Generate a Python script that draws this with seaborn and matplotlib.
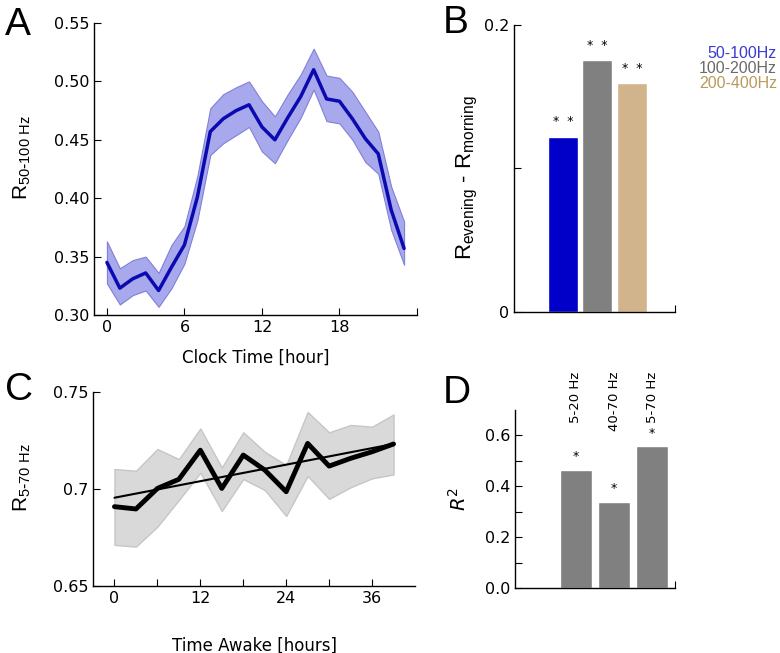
import numpy as np
import matplotlib
matplotlib.use('Agg')
import matplotlib.pyplot as plt
import seaborn as sns

# Panel A: clock time vs R (50-100 Hz)
hours = list(range(24))
r_mean = [0.345, 0.323, 0.331, 0.336, 0.321, 0.341, 0.360, 0.401, 0.457, 0.468, 0.475, 0.480,
          0.461, 0.450, 0.469, 0.487, 0.510, 0.485, 0.483, 0.468, 0.451, 0.438, 0.390, 0.357]
r_upper = [0.363, 0.340, 0.347, 0.350, 0.336, 0.360, 0.376, 0.419, 0.477, 0.489, 0.495, 0.500,
           0.483, 0.470, 0.489, 0.506, 0.528, 0.505, 0.503, 0.491, 0.474, 0.457, 0.410, 0.380]
r_lower = [0.327, 0.309, 0.317, 0.321, 0.307, 0.323, 0.344, 0.381, 0.437, 0.447, 0.454, 0.461,
           0.440, 0.430, 0.450, 0.469, 0.493, 0.466, 0.464, 0.450, 0.431, 0.421, 0.373, 0.343]

# Panel B: evening - morning difference
bands_b = ['50-100Hz', '100-200Hz', '200-400Hz']
diff_b = [0.122, 0.1755, 0.1595]
colors_b = ['#0000c8', '#808080', '#d2b48c']
text_colors_b = ['#3a3ad0', '#6a6a6a', '#b89a5c']

# Panel C: time awake vs R (5-70 Hz)
awake = [0, 3, 6, 9, 12, 15, 18, 21, 24, 27, 30, 33, 36, 39]
c_mean = [0.6909, 0.6897, 0.7003, 0.7050, 0.7200, 0.7003, 0.7175, 0.7098, 0.6986, 0.7235,
          0.7118, 0.7158, 0.7192, 0.7232]
c_upper = [0.7103, 0.7094, 0.7206, 0.7154, 0.7312, 0.7111, 0.7292, 0.7192, 0.7123, 0.7397,
           0.7292, 0.7330, 0.7321, 0.7384]
c_lower = [0.6712, 0.6703, 0.6806, 0.6943, 0.7084, 0.6887, 0.7051, 0.6995, 0.6861, 0.7067,
           0.6949, 0.7009, 0.7055, 0.7075]
trend_x = [0, 39]
trend_y = [0.6955, 0.7232]

# Panel D: R^2 per band
bands_d = ['5-20 Hz', '40-70 Hz', '5-70 Hz']
r2_d = [0.4655, 0.340, 0.557]

sns.set_style('ticks')
plt.rcParams['font.family'] = ['DejaVu Sans']
plt.rcParams['mathtext.default'] = 'regular'
plt.rcParams['text.color'] = 'black'
plt.rcParams['axes.labelcolor'] = 'black'
plt.rcParams['axes.edgecolor'] = 'black'
plt.rcParams['xtick.color'] = 'black'
plt.rcParams['ytick.color'] = 'black'
plt.rcParams['xtick.direction'] = 'in'
plt.rcParams['ytick.direction'] = 'in'
plt.rcParams['xtick.major.size'] = 5
plt.rcParams['ytick.major.size'] = 5
plt.rcParams['xtick.minor.size'] = 5
plt.rcParams['ytick.minor.size'] = 5
plt.rcParams['axes.linewidth'] = 1.0

fig = plt.figure(figsize=(7.8, 6.53), dpi=100)
W, H = 780, 653


def add_axes(left, right, top, bottom):
    return fig.add_axes([left / W, 1 - bottom / H, (right - left) / W, (bottom - top) / H])


ax_a = add_axes(94, 417, 23, 315)
ax_b = add_axes(514, 675, 25, 312)
ax_c = add_axes(93, 415, 392, 586)
ax_d = add_axes(515, 675, 410, 588)

for ax in [ax_a, ax_b, ax_c, ax_d]:
    sns.despine(ax=ax)
    ax.tick_params(labelsize=11.5, width=0.8, colors='black')

# ---------------- A ----------------
ax_a.fill_between(hours, r_lower, r_upper, color='#a8a8ec', edgecolor='#8080d8', linewidth=0.8)
sns.lineplot(x=hours, y=r_mean, ax=ax_a, color='#0a0ab0', linewidth=2.5)
ax_a.set_xlim(-1, 24)
ax_a.set_ylim(0.30, 0.55)
ax_a.set_xticks([0, 6, 12, 18, 24])
ax_a.set_xticklabels(['0', '6', '12', '18', ''])
ax_a.set_yticks([0.30, 0.35, 0.40, 0.45, 0.50, 0.55])
ax_a.set_yticklabels(['0.30', '0.35', '0.40', '0.45', '0.50', '0.55'])
ax_a.set_xlabel('Clock Time [hour]', fontsize=12, labelpad=10)
ax_a.set_ylabel(r'$R_{50\text{-}100\ Hz}$', fontsize=15, family=['Liberation Sans'])
ax_a.yaxis.set_label_coords(-0.19, 0.54)

# ---------------- B ----------------
sns.barplot(x=bands_b, y=diff_b, hue=bands_b, palette=colors_b, ax=ax_b,
            legend=False, width=0.87, saturation=1)
ax_b.set_xlim(-1.42, 3.25)
ax_b.set_ylim(0, 0.2)
ax_b.set_xticks([3.25])
ax_b.set_xticklabels([''])
ax_b.set_yticks([0, 0.1, 0.2])
ax_b.set_yticklabels(['0', '', '0.2'])
ax_b.set_xlabel('')
ax_b.set_ylabel(r'$R_{evening}$ - $R_{morning}$', fontsize=16, family=['Liberation Sans'])
ax_b.yaxis.set_label_coords(-0.21, 0.467)
for i, v in enumerate(diff_b):
    ax_b.text(i, v + 0.006, '*  *', ha='center', va='bottom', fontsize=9)
for i, (lab, col) in enumerate(zip(bands_b, text_colors_b)):
    fig.text(777 / W, 1 - (54 + 14.5 * i) / H, lab, color=col, ha='right', va='center',
             fontsize=11.5, family=['Liberation Sans'])

# ---------------- C ----------------
ax_c.fill_between(awake, c_lower, c_upper, color='#d9d9d9', edgecolor='#c6c6c6', linewidth=1)
sns.lineplot(x=awake, y=c_mean, ax=ax_c, color='black', linewidth=3.5)
sns.lineplot(x=trend_x, y=trend_y, ax=ax_c, color='black', linewidth=1.5)
ax_c.set_xlim(-3, 42)
ax_c.set_ylim(0.65, 0.75)
ax_c.set_xticks([0, 6, 12, 18, 24, 30, 36])
ax_c.set_xticklabels(['0', '', '12', '', '24', '', '36'])
ax_c.set_yticks([0.65, 0.7, 0.75])
ax_c.set_yticklabels(['0.65', '0.7', '0.75'])
ax_c.set_xlabel('Time Awake [hours]', fontsize=12, labelpad=22)
ax_c.set_ylabel(r'$R_{5\text{-}70\ Hz}$', fontsize=15, family=['Liberation Sans'])
ax_c.yaxis.set_label_coords(-0.186, 0.557)

# ---------------- D ----------------
sns.barplot(x=bands_d, y=r2_d, color='#808080', ax=ax_d, width=0.84, saturation=1)
ax_d.set_xlim(-1.6, 2.6)
ax_d.set_ylim(0, 0.7)
ax_d.set_xticks([2.6])
ax_d.set_xticklabels([''])
ax_d.set_yticks([0.0, 0.2, 0.4, 0.6])
ax_d.set_yticks([0.1, 0.3, 0.5], minor=True)
ax_d.tick_params(which='minor', direction='in', length=5, width=0.8)
ax_d.set_yticklabels(['0.0', '0.2', '0.4', '0.6'])
ax_d.set_xlabel('')
ax_d.set_ylabel(r'$\mathit{R}^2$', fontsize=14)
ax_d.yaxis.set_label_coords(-0.28, 0.5)
for i, v in enumerate(r2_d):
    ax_d.text(i, v + 0.025, '*', ha='center', va='bottom', fontsize=9)
    ax_d.text(i, 0.85, bands_d[i], rotation=90, ha='center', va='top', fontsize=9.5,
              clip_on=False)

# Panel letters
for letter, x, y in [('A', 5, 35), ('B', 443, 33), ('C', 5, 400), ('D', 443, 403)]:
    fig.text(x / W, 1 - y / H, letter, fontsize=28, va='baseline', ha='left',
             family=['Liberation Sans'])

fig.savefig('out.png', dpi=100)
